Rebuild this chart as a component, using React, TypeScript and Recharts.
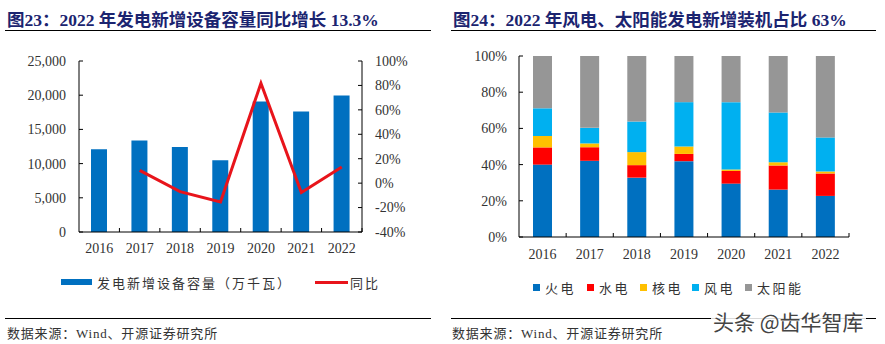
import React from 'react';
import { ComposedChart, BarChart, Bar, Line, XAxis, YAxis } from 'recharts';

const years = ['2016', '2017', '2018', '2019', '2020', '2021', '2022'];
const capacity = [12100, 13370, 12430, 10480, 19090, 17630, 19974];
const yoy: (number | null)[] = [null, 10.5, -7.0, -15.5, 81.8, -7.6, 13.3];
const capTicks = [0, 5000, 10000, 15000, 20000, 25000];
const yoyTicks = [-40, -20, 0, 20, 40, 60, 80, 100];

const fire = [40.0, 42.1, 32.8, 41.9, 29.5, 26.2, 22.7];
const hydro = [9.5, 7.5, 6.9, 4.0, 7.0, 13.3, 12.4];
const nuclear = [6.3, 2.1, 7.2, 4.1, 0.8, 1.8, 1.1];
const wind = [15.3, 8.6, 16.9, 24.5, 37.2, 27.5, 18.8];
const solar = [28.9, 39.7, 36.2, 25.5, 25.5, 31.2, 45.0];
const pctTicks = [0, 20, 40, 60, 80, 100];

const leftData = years.map((y, i) => ({ year: y, cap: capacity[i], yoy: yoy[i] }));
const mixData = years.map((y, i) => ({
  year: y, fire: fire[i], hydro: hydro[i], nuclear: nuclear[i], wind: wind[i], solar: solar[i],
}));

const SERIF = "'Liberation Serif', 'Times New Roman', 'Noto Sans CJK SC', serif";
const CJK = "'Liberation Serif', 'Noto Sans CJK SC', sans-serif";
const TITLE_COLOR = '#1B2470';
const TEXT = '#333';

const fmtComma = (v: number) => v.toLocaleString('en-US');

function makeYTick(side: 'left' | 'right', margin: number, fmt: (v: number) => string) {
  return (props: any) => {
    const { x, y, payload } = props;
    const axisX = side === 'left' ? x + margin : x - margin;
    const x2 = side === 'left' ? axisX + 4 : axisX - 4;
    return (
      <g>
        <line x1={axisX} y1={y} x2={x2} y2={y} stroke="#000" strokeWidth={1} />
        <text x={x} y={y} dy="0.35em" textAnchor={side === 'left' ? 'end' : 'start'}
          fill={TEXT} fontFamily={SERIF} fontSize={14}>{fmt(payload.value)}</text>
      </g>
    );
  };
}

function makeXTick(margin: number, band: number, count: number) {
  return (props: any) => {
    const { x, y, payload, index } = props;
    const axisY = y - margin;
    const left = x - band / 2;
    return (
      <g>
        {index > 0 && <line x1={left} y1={axisY} x2={left} y2={axisY - 4} stroke="#000" />}
        {index === count - 1 && <line x1={x + band / 2} y1={axisY} x2={x + band / 2} y2={axisY - 4} stroke="#000" />}
        <text x={x} y={y} dy="0.71em" textAnchor="middle" fill={TEXT} fontFamily={SERIF} fontSize={14}>
          {payload.value}
        </text>
      </g>
    );
  };
}

const abs = (l: number, t: number): React.CSSProperties => ({ position: 'absolute', left: l, top: t });

export default function App() {
  const leftBand = (362 - 79) / years.length;
  const rightBand = (849 - 519) / years.length;
  const legendText: React.CSSProperties = { fontFamily: CJK, fontSize: 13, color: TEXT, letterSpacing: 2, whiteSpace: 'nowrap' };
  const mixLegend = [
    { name: '火电', color: '#0070C0', x: 533 },
    { name: '水电', color: '#FF0000', x: 587 },
    { name: '核电', color: '#FFC000', x: 640 },
    { name: '风电', color: '#00B0F0', x: 692 },
    { name: '太阳能', color: '#969696', x: 745 },
  ];
  return (
    <div style={{ position: 'absolute', left: 0, top: 0, width: 885, height: 344, background: '#fff', overflow: 'hidden' }}>
      {/* Titles */}
      <div style={{ ...abs(7, 6), fontFamily: CJK, fontWeight: 'bold', fontSize: 17.5, color: TITLE_COLOR, whiteSpace: 'nowrap' }}>
        图23：2022 年发电新增设备容量同比增长 13.3%
      </div>
      <div style={{ ...abs(453, 6), fontFamily: CJK, fontWeight: 'bold', fontSize: 17.5, color: TITLE_COLOR, whiteSpace: 'nowrap' }}>
        图24：2022 年风电、太阳能发电新增装机占比 63%
      </div>
      <div style={{ ...abs(5, 30), width: 426, height: 1, background: '#000' }} />
      <div style={{ ...abs(451, 30), width: 425, height: 1, background: '#000' }} />

      {/* Left chart */}
      <div style={abs(0, 0)}>
        <ComposedChart width={440} height={262} data={leftData} margin={{ top: 61, right: 18, bottom: 0, left: 0 }}>
          <XAxis dataKey="year" stroke="#000" tickLine={false} tickSize={0} tickMargin={11} height={30}
            tick={makeXTick(11, leftBand, years.length)} interval={0} />
          <YAxis yAxisId="left" orientation="left" width={79} domain={[0, 25000]} ticks={capTicks}
            stroke="#000" tickLine={false} tickSize={0} tickMargin={13}
            tick={makeYTick('left', 13, fmtComma)} interval={0} />
          <YAxis yAxisId="right" orientation="right" width={60} domain={[-40, 100]} ticks={yoyTicks}
            stroke="#000" tickLine={false} tickSize={0} tickMargin={13}
            tick={makeYTick('right', 13, (v) => `${v}%`)} interval={0} />
          <Bar yAxisId="left" dataKey="cap" fill="#0070C0" barSize={16} isAnimationActive={false} />
          <Line yAxisId="right" dataKey="yoy" stroke="#E8141B" strokeWidth={3} dot={false}
            type="linear" isAnimationActive={false} />
        </ComposedChart>
      </div>

      {/* Right chart */}
      <div style={abs(445, 0)}>
        <BarChart width={440} height={267} data={mixData} margin={{ top: 56, right: 36, bottom: 0, left: 0 }}>
          <XAxis dataKey="year" stroke="#000" tickLine={false} tickSize={0} tickMargin={12} height={30}
            tick={makeXTick(12, rightBand, years.length)} interval={0} />
          <YAxis width={74} domain={[0, 100]} ticks={pctTicks} stroke="#000" tickLine={false}
            tickSize={0} tickMargin={12} tick={makeYTick('left', 12, (v) => `${v}%`)} interval={0} />
          <Bar dataKey="fire" stackId="a" fill="#0070C0" barSize={19} isAnimationActive={false} />
          <Bar dataKey="hydro" stackId="a" fill="#FF0000" barSize={19} isAnimationActive={false} />
          <Bar dataKey="nuclear" stackId="a" fill="#FFC000" barSize={19} isAnimationActive={false} />
          <Bar dataKey="wind" stackId="a" fill="#00B0F0" barSize={19} isAnimationActive={false} />
          <Bar dataKey="solar" stackId="a" fill="#969696" barSize={19} isAnimationActive={false} />
        </BarChart>
      </div>

      {/* Left legend */}
      <div style={{ ...abs(61, 279), width: 31, height: 6, background: '#0070C0' }} />
      <div style={{ ...abs(97, 273), ...legendText }}>发电新增设备容量（万千瓦）</div>
      <div style={{ ...abs(315, 281), width: 33, height: 3, background: '#E8141B' }} />
      <div style={{ ...abs(350, 273), ...legendText }}>同比</div>

      {/* Right legend */}
      {mixLegend.map((it) => (
        <React.Fragment key={it.name}>
          <div style={{ ...abs(it.x, 284), width: 7, height: 7, background: it.color }} />
          <div style={{ ...abs(it.x + 12, 278), ...legendText, letterSpacing: 2.5 }}>{it.name}</div>
        </React.Fragment>
      ))}

      {/* Bottom rules and sources */}
      <div style={{ ...abs(5, 318), width: 426, height: 1, background: '#000' }} />
      <div style={{ ...abs(451, 318), width: 425, height: 1, background: '#000' }} />
      <div style={{ ...abs(7, 323), fontFamily: CJK, fontSize: 13, color: TEXT, letterSpacing: 0.8, whiteSpace: 'nowrap' }}>
        数据来源：Wind、开源证券研究所
      </div>
      <div style={{ ...abs(452, 323), fontFamily: CJK, fontSize: 13, color: TEXT, letterSpacing: 0.8, whiteSpace: 'nowrap' }}>
        数据来源：Wind、开源证券研究所
      </div>

      {/* Watermark */}
      <div style={{ ...abs(711, 308), fontFamily: "'Noto Sans CJK SC', sans-serif", fontSize: 21, color: '#444',
        background: 'rgba(255,255,255,0.85)', whiteSpace: 'nowrap', lineHeight: '26px', padding: '0 2px' }}>
        头条 @齿华智库
      </div>
    </div>
  );
}
